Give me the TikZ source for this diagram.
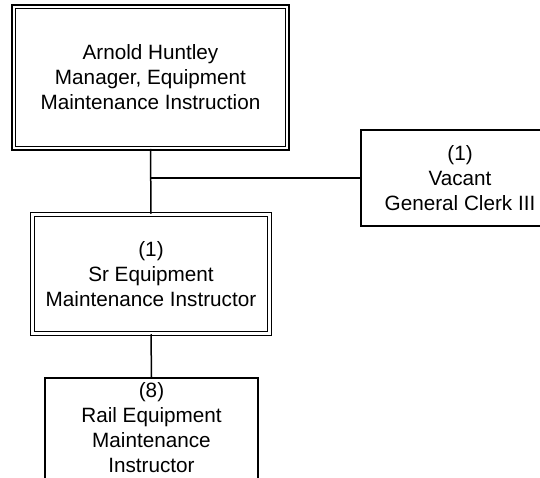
\documentclass[tikz,border=0pt]{standalone}
\usepackage{fontspec}
\setmainfont{Liberation Sans}
\usetikzlibrary{positioning, calc}

\begin{document}
\begin{tikzpicture}[
    x=1pt, y=-1pt,
    font=\fontsize{20.7}{25}\selectfont,
    link/.style={draw, line width=1.5pt},
    post/.style={rectangle, draw, line width=1.5pt, align=center, inner sep=0pt},
    headpost/.style={post, double, double distance=2.4pt, minimum width=#1},
]
    \useasboundingbox (0,0) rectangle (540,478);
    \clip (0,0) rectangle (540,478);

    \node[headpost=273.5pt, minimum height=141.5pt] (manager) at (150.5,77.5) {Arnold Huntley\\Manager, Equipment\\Maintenance Instruction};
    \node[post, minimum width=198pt, minimum height=96pt] (clerk) at (460,178) {(1)\\Vacant\\General Clerk III};
    \node[headpost=237pt, minimum height=119pt] (senior) at (151,274) {(1)\\Sr Equipment\\Maintenance Instructor};

    % staff box runs off the bottom edge
    \node[post, minimum width=213pt, anchor=north, text depth=40pt] (rail) at (151.5,377) {\rule{0pt}{19.5pt}(8)\\Rail Equipment\\Maintenance\\Instructor};

    % connectors
    \draw[link] (manager.south) -- (senior.north);
    \draw[link] (clerk.west) -- (manager.south |- clerk.west);
    \draw[link] (senior.south) -- (rail.north);
\end{tikzpicture}
\end{document}
